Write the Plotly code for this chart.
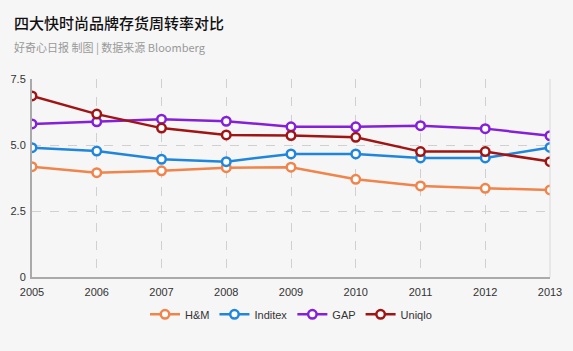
import plotly.graph_objects as go

years = ["2005", "2006", "2007", "2008", "2009", "2010", "2011", "2012", "2013"]
hm = [4.18, 3.95, 4.02, 4.14, 4.16, 3.70, 3.45, 3.36, 3.30]
inditex = [4.90, 4.77, 4.46, 4.37, 4.66, 4.66, 4.51, 4.51, 4.91]
gap = [5.80, 5.88, 5.98, 5.90, 5.69, 5.69, 5.73, 5.62, 5.35]
uniqlo = [6.86, 6.17, 5.64, 5.38, 5.36, 5.29, 4.75, 4.75, 4.37]

series = [("H&M", hm, "#f0844a"), ("Inditex", inditex, "#1f86dc"),
          ("GAP", gap, "#8420d8"), ("Uniqlo", uniqlo, "#a01414")]

W, H = 573, 351
ML, MR, MT, MB = 25, 11, 79, 74

fig = go.Figure()
for name, vals, col in series:
    fig.add_trace(go.Scatter(
        x=list(range(len(years))), y=vals, name=name, mode="lines+markers",
        line=dict(color=col, width=2.5),
        marker=dict(symbol="circle", size=8.5, color="white", line=dict(color=col, width=2.5)),
    ))

pw = W - ML - MR
ph = H - MT - MB


def px2paper(px, py):
    return (px - ML) / pw, (H - MB - py) / ph


tx, ty = px2paper(4, 22)
sx, sy = px2paper(4, 47)

fig.update_layout(
    width=W, height=H,
    paper_bgcolor="#f6f6f6", plot_bgcolor="#f6f6f6",
    margin=dict(l=ML, r=MR, t=MT, b=MB),
    font=dict(family="Liberation Sans, Noto Sans CJK SC, sans-serif", size=11, color="#333"),
    showlegend=True,
    legend=dict(orientation="h", x=0.5, xanchor="center", y=-0.115, yanchor="top",
                font=dict(size=11, color="#333"), bgcolor="rgba(0,0,0,0)",
                itemwidth=30, traceorder="normal"),
    xaxis=dict(range=[0, 8], tickmode="array", tickvals=list(range(len(years))), ticktext=years,
               showgrid=True, gridcolor="#d0d0d0", griddash="dash", gridwidth=1,
               showline=True, linecolor="#aaaaaa", linewidth=2, mirror=False,
               zeroline=False, ticks="", ticklabelstandoff=4, ticklabeloverflow="allow",
               tickfont=dict(size=11, color="#333")),
    yaxis=dict(range=[0, 7.5], tickmode="array", tickvals=[0, 2.5, 5.0, 7.5],
               ticktext=["0", "2.5", "5.0", "7.5"],
               showgrid=True, gridcolor="#d0d0d0", griddash="dash", gridwidth=1,
               showline=True, linecolor="#aaaaaa", linewidth=2,
               zeroline=False, ticks="", ticklabelstandoff=2,
               tickfont=dict(size=11, color="#333")),
    annotations=[
        dict(text="四大快时尚品牌存货周转率对比", x=tx, y=ty, xref="paper", yref="paper",
             showarrow=False, xanchor="left", yanchor="middle",
             font=dict(family="Noto Sans CJK SC, sans-serif", size=15, color="#111", weight=500)),
        dict(text="好奇心日报 制图 | 数据来源 Bloomberg", x=sx, y=sy, xref="paper", yref="paper",
             showarrow=False, xanchor="left", yanchor="middle",
             font=dict(family="Noto Sans CJK SC, Liberation Sans, sans-serif", size=11, color="#999")),
    ],
)

fig.add_shape(type="line", xref="paper", yref="paper", x0=1, x1=1, y0=0, y1=1,
              line=dict(color="#d8d8d8", width=1))

fig.write_html("out.html")
